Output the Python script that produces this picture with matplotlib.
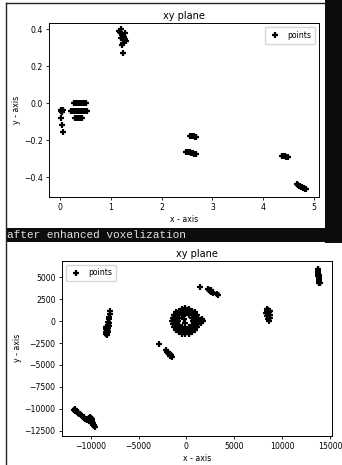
import matplotlib
matplotlib.use('Agg')
import matplotlib.pyplot as plt
from matplotlib.patches import Rectangle
from matplotlib.lines import Line2D

# top chart: points in the xy plane (before)
top_x = [0.01, 0.03, 0.05, 0.02, 0.04, 0.02, 0.03, 0.05,
         0.27, 0.29, 0.31, 0.33, 0.35, 0.37, 0.39, 0.41, 0.43, 0.45, 0.47, 0.49, 0.51,
         0.21, 0.23, 0.25, 0.27, 0.29, 0.31, 0.33, 0.35, 0.37, 0.39, 0.41, 0.43, 0.45, 0.47, 0.49, 0.51, 0.53,
         0.30, 0.32, 0.34, 0.36, 0.38, 0.40, 0.42, 0.44,
         1.16, 1.20, 1.22, 1.28, 1.26, 1.20, 1.30, 1.24, 1.21, 1.23, 1.18, 1.27,
         2.56, 2.58, 2.60, 2.62, 2.64, 2.66, 2.68,
         2.48, 2.50, 2.52, 2.54, 2.56, 2.58, 2.60, 2.62, 2.64, 2.66, 2.68,
         4.37, 4.39, 4.41, 4.43, 4.45, 4.47, 4.49,
         4.67, 4.69, 4.71, 4.73, 4.75, 4.77, 4.79, 4.81, 4.83, 4.85]
top_y = [-0.035, -0.04, -0.035, -0.045, -0.05, -0.08, -0.12, -0.155,
         0.0, 0.0, 0.0, 0.0, 0.0, 0.0, 0.0, 0.0, 0.0, 0.0, 0.0, 0.0, 0.0,
         -0.04, -0.04, -0.04, -0.04, -0.04, -0.04, -0.04, -0.04, -0.04, -0.04, -0.04, -0.04, -0.04, -0.04, -0.04, -0.04, -0.04,
         -0.08, -0.08, -0.08, -0.08, -0.08, -0.08, -0.08, -0.08,
         0.39, 0.40, 0.37, 0.38, 0.36, 0.355, 0.336, 0.327, 0.314, 0.274, 0.385, 0.345,
         -0.176, -0.177, -0.178, -0.178, -0.180, -0.182, -0.183,
         -0.262, -0.263, -0.264, -0.266, -0.267, -0.268, -0.270, -0.272, -0.273, -0.275, -0.276,
         -0.285, -0.286, -0.287, -0.288, -0.289, -0.290, -0.291,
         -0.440, -0.443, -0.446, -0.449, -0.452, -0.455, -0.458, -0.461, -0.463, -0.466]

# bottom chart: after enhanced voxelization
bot_x = [-11750, -11650, -11550, -11450, -11350, -11250, -11150, -11050, -10950, -10850,
         -10750, -10650, -10550, -10450, -10350, -10250, -10150, -10050, -9950, -9900,
         -9850, -9800, -9750, -9700, -9650, -9600, -10050, -9950, -10150, -11650, -11350, -9850,
         -7950, -8000, -8050, -8100, -8150, -8200, -8250, -8300, -8350, -8400,
         -8100, -8150, -8200, -8250, -8450, -8400, -8050, -8100, -8300, -8150, -8350, -8250,
         -2850, -2150, -2050, -1950, -1850, -1750, -1600, -1500, -1900, -1700,
         1400, 2250, 2400, 2500, 2600, 2700, 2800, 3200, 3300, 2550,
         8450, 8550, 8400, 8600, 8500, 8700, 8450, 8650, 8550, 8600, 8750, 8350, 8700,
         13700, 13720, 13740, 13760, 13780, 13800, 13820, 13840, 13860, 13880, 13900,
         13780, 13850, 13900, 13950, 13700,
         1300, 1110, 600, -100, -800, -1310, -1500, -1310, -800, -100, 600, 1110,
         1700, 1550, 1650,
         950, 860, 420, -100, -620, -1000, -1150, -1000, -620, -100, 420, 860,
         1250, 900, 250, -450, -1100, -1450, -1450, -1100, -450, 250, 900, 1250,
         850, 650, 200, -400, -850, -1050, -1050, -850, -400, 200, 650, 850,
         720, 610, 310, -100, -510, -810, -920, -810, -510, -100, 310, 610,
         800, -1000, -1000, 800, 1150, -100, -1350, -100,
         1010, 360, -560, -1210, -1210, -560, 360, 1010,
         -300, -100]
bot_y = [-10100, -10200, -10300, -10350, -10500, -10550, -10650, -10750, -10800, -10900,
         -10950, -11050, -11150, -11200, -11250, -11300, -11050, -10950, -11100, -11300,
         -11450, -11600, -11750, -11900, -12000, -12100, -11400, -11600, -11300, -10050, -10400, -11200,
         1100, 800, 500, 200, -100, -400, -700, -1000, -1300, -1500,
         -500, -800, -1100, -1400, -1200, -900, 300, -200, -1500, -1200, -700, -1600,
         -2650, -3350, -3500, -3650, -3700, -3800, -3900, -4050, -3550, -3950,
         3950, 3650, 3550, 3400, 3300, 3350, 3250, 3050, 3000, 3500,
         1400, 1300, 1100, 1000, 800, 700, 600, 400, 200, 50, 1200, 900, 300,
         5950, 5800, 5650, 5500, 5350, 5200, 5050, 4900, 4700, 4500, 4300,
         5700, 5300, 4900, 4400, 5550,
         0, 700, 1210, 1450, 1210, 700, 0, -700, -1250, -1450, -1250, -700,
         0, -200, 200,
         0, 520, 900, 1050, 900, 520, 0, -520, -920, -1100, -920, -520,
         350, 1000, 1400, 1400, 1000, 350, -350, -1000, -1450, -1450, -1000, -350,
         250, 700, 1000, 1000, 700, 250, -300, -750, -1050, -1050, -750, -300,
         0, 410, 710, 820, 710, 410, 0, -410, -710, -820, -710, -410,
         900, 900, -900, -900, 0, 1250, 0, -1250,
         460, 1110, 1110, 460, -460, -1110, -1110, -460,
         200, -200]

W, H = 342, 465
fig = plt.figure(figsize=(W / 100, H / 100), dpi=100)
fig.patch.set_facecolor('white')

# screenshot framing: black strips, border lines, caption band
fig.add_artist(Rectangle((325 / W, 1 - 243 / H), 17 / W, 243 / H, transform=fig.transFigure,
                         facecolor='#0d0d0d', edgecolor='none'))
fig.add_artist(Rectangle((6 / W, 1 - 242 / H), 336 / W, 14 / H, transform=fig.transFigure,
                         facecolor='#0d0d0d', edgecolor='none'))
fig.add_artist(Line2D([6 / W, 6 / W], [0, 1 - 3 / H], transform=fig.transFigure, color='#222222', lw=1))
fig.add_artist(Line2D([6 / W, 325 / W], [1 - 3 / H, 1 - 3 / H], transform=fig.transFigure, color='#222222', lw=1))
fig.text(7 / W, 1 - 235 / H, 'after enhanced voxelization', family='Liberation Mono',
         color='#e0e0e0', fontsize=8, va='center', ha='left')

def draw(ax, xs, ys, loc):
    ax.plot(xs, ys, linestyle='', marker='+', color='black', ms=4.8, mew=1.6, label='points')
    ax.set_title('xy plane', fontsize=7, pad=3)
    ax.set_xlabel('x - axis', fontsize=5.6, labelpad=2)
    ax.set_ylabel('y - axis', fontsize=5.6, labelpad=2)
    ax.tick_params(labelsize=5.6, length=2.5, width=0.6, pad=2)
    for s in ax.spines.values():
        s.set_linewidth(0.7)
    ax.legend(loc=loc, fontsize=5.6, handlelength=1.6, borderpad=0.5)

ax1 = fig.add_axes([49 / W, 1 - 197 / H, 270 / W, 174 / H])
draw(ax1, top_x, top_y, 'upper right')
ax1.set_xlim(-0.22, 5.10)
ax1.set_ylim(-0.508, 0.434)
ax1.set_yticks([-0.4, -0.2, 0.0, 0.2, 0.4])

ax2 = fig.add_axes([61.7 / W, 1 - 436 / H, 270 / W, 175.3 / H])
draw(ax2, bot_x, bot_y, 'upper left')
ax2.set_xlim(-13030, 15180)
ax2.set_ylim(-13105, 6894)
ax2.set_xticks([-10000, -5000, 0, 5000, 10000, 15000])
ax2.set_yticks([-12500, -10000, -7500, -5000, -2500, 0, 2500, 5000])

fig.savefig('out.png', dpi=100)
